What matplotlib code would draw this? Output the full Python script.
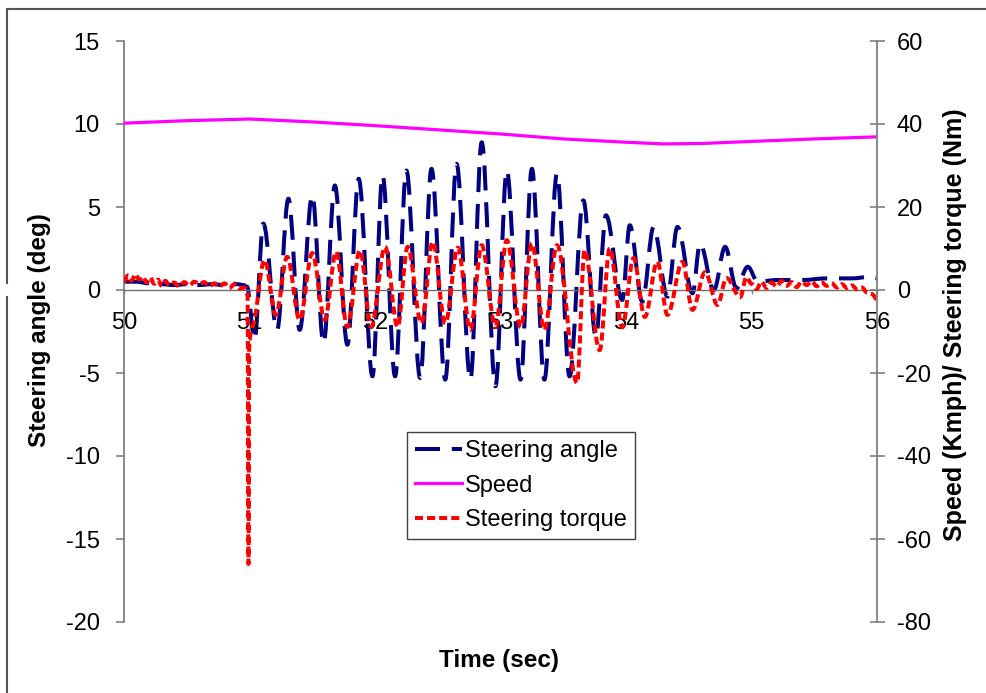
import numpy as np
import matplotlib
matplotlib.use("Agg")
import matplotlib.pyplot as plt
from matplotlib.lines import Line2D
from matplotlib.path import Path
from matplotlib.patches import PathPatch

plt.rcParams['font.family'] = ['Liberation Sans', 'DejaVu Sans']
plt.rcParams['lines.scale_dashes'] = False
plt.rcParams['axes.unicode_minus'] = False

# steering angle (deg), left axis
angle_t = [50.00, 50.10, 50.20, 50.30, 50.40, 50.50, 50.60, 50.70, 50.80, 50.85,
           50.90, 50.95, 50.98,
           51.04, 51.11, 51.22, 51.31, 51.40, 51.50, 51.59, 51.68, 51.78, 51.87,
           51.98, 52.06, 52.16, 52.25, 52.36, 52.45, 52.56, 52.65, 52.76, 52.85,
           52.96, 53.05, 53.16, 53.25, 53.35, 53.45, 53.55, 53.66, 53.76, 53.84,
           53.97, 54.03, 54.13, 54.22, 54.33, 54.41, 54.53, 54.59, 54.70, 54.79,
           54.88, 54.97,
           55.05, 55.20, 55.40, 55.60, 55.80, 55.95, 56.00]
angle = [0.5, 0.5, 0.4, 0.35, 0.3, 0.35, 0.3, 0.35, 0.3, 0.45,
         0.35, 0.3, 0.2,
         -3.0, 4.0, -2.4, 5.5, -2.4, 5.7, -3.2, 6.3, -3.3, 6.7,
         -5.2, 6.9, -5.2, 7.2, -5.3, 7.3, -5.4, 7.6, -5.4, 8.9,
         -5.8, 7.2, -5.4, 7.3, -5.4, 7.0, -5.2, 5.4, -2.8, 4.5,
         -0.6, 3.9, -0.7, 3.8, -0.4, 3.8, -0.2, 2.8, 0.0, 2.6,
         0.1, 1.4,
         0.5, 0.6, 0.6, 0.7, 0.7, 0.8, 0.7]

# steering torque (Nm), right axis
torque_t = [50.00, 50.03, 50.06, 50.09, 50.12, 50.15, 50.18, 50.21, 50.24, 50.27,
            50.30, 50.33, 50.36, 50.40, 50.44, 50.48, 50.52, 50.56, 50.60, 50.64,
            50.68, 50.72, 50.76, 50.80, 50.84, 50.88, 50.92, 50.96,
            50.985, 50.992, 50.998, 51.02,
            51.12, 51.21, 51.30, 51.40, 51.50, 51.60, 51.69, 51.78, 51.88, 51.97,
            52.08, 52.18, 52.26, 52.37, 52.46, 52.56, 52.66, 52.76, 52.85, 52.96,
            53.05, 53.16, 53.25, 53.35, 53.45, 53.61, 53.67, 53.79, 53.87, 53.97,
            54.06, 54.15, 54.25, 54.33, 54.45, 54.53, 54.63, 54.73, 54.80, 54.91,
            54.96,
            55.00, 55.04, 55.08, 55.12, 55.16, 55.20, 55.24, 55.28, 55.32, 55.36,
            55.40, 55.44, 55.48, 55.52, 55.56, 55.60, 55.64, 55.68, 55.72, 55.76,
            55.80, 55.84, 55.88, 55.92, 55.96, 56.00]
torque = [2.0, 3.5, 2.2, 3.8, 2.5, 3.2, 1.8, 3.0, 1.5, 2.5,
          1.0, 2.2, 1.2, 1.8, 0.8, 1.9, 1.0, 2.0, 1.4, 1.9,
          0.9, 1.6, 0.8, 1.6, 0.5, 1.4, 0.4, 0.6,
          -1.0, -66.0, -12.0, -8.9,
          7.2, -6.0, 8.0, -7.2, 8.9, -7.2, 9.2, -8.9, 9.5, -8.9,
          10.4, -8.9, 10.4, -8.0, 11.6, -8.0, 10.2, -9.6, 10.8, -8.9,
          12.0, -8.9, 11.2, -9.6, 10.8, -22.4, 9.6, -14.5, 10.0, -9.0,
          7.7, -6.5, 6.8, -6.0, 6.8, -4.8, 4.3, -3.6, 2.9, -1.7,
          3.1,
          1.5, 0.2, 2.0, 0.5, 1.8, 0.8, 2.2, 1.0, 1.9, 0.7,
          2.0, 1.2, 2.1, 0.9, 1.8, 1.0, 1.6, 0.6, 1.4, 0.5,
          1.1, 0.2, 0.6, -0.6, -1.0, -2.2]

# speed (Kmph), right axis
speed_t = [50.0, 50.5, 51.0, 51.5, 52.0, 52.5, 53.0, 53.5, 54.0, 54.3, 54.6, 55.0, 55.5, 56.0]
speed = [40.2, 40.8, 41.2, 40.5, 39.6, 38.6, 37.6, 36.4, 35.6, 35.2, 35.3, 35.8, 36.4, 36.9]

x_ticks = [50, 51, 52, 53, 54, 55, 56]
left_ticks = [-20, -15, -10, -5, 0, 5, 10, 15]
right_ticks = [-80, -60, -40, -20, 0, 20, 40, 60]


def smooth_path(t, v, k=0.36):
    # smoothed line through the points (flat tangent at each point)
    verts = [(t[0], v[0])]
    codes = [Path.MOVETO]
    for i in range(1, len(t)):
        dt = t[i] - t[i - 1]
        verts += [(t[i - 1] + k * dt, v[i - 1]), (t[i] - k * dt, v[i]), (t[i], v[i])]
        codes += [Path.CURVE4] * 3
    return Path(verts, codes)


W, H = 987, 693
fig = plt.figure(figsize=(W / 100, H / 100), dpi=100)
ax1 = fig.add_axes([124 / W, 1 - 622 / H, (877 - 124) / W, (622 - 41) / H])
ax2 = ax1.twinx()

gray = '#808080'
fs = 17
blue, red, mag = '#000080', '#FF0000', '#FF00FF'
blue_dash = (18, 8.5)
red_dash = (5.8, 2.9)

ax1.add_patch(PathPatch(smooth_path(angle_t, angle), fill=False, edgecolor=blue,
                        lw=2.9, linestyle=(0, blue_dash), joinstyle='round'))
ax2.plot(speed_t, speed, color=mag, lw=2.3)
ax2.add_patch(PathPatch(smooth_path(torque_t, torque), fill=False, edgecolor=red,
                        lw=2.9, linestyle=(0, red_dash), joinstyle='round'))

ax1.set_xlim(50, 56)
ax1.set_ylim(-20, 15)
ax2.set_ylim(-80, 60)
ax1.set_xticks(x_ticks)
ax1.set_yticks(left_ticks)
ax2.set_yticks(right_ticks)

for ax in (ax1, ax2):
    ax.spines['top'].set_visible(False)
    ax.patch.set_visible(False)
ax2.spines['bottom'].set_visible(False)
ax2.spines['left'].set_visible(False)
ax1.spines['right'].set_visible(False)
ax1.spines['bottom'].set_position(('data', 0))
ax1.spines['bottom'].set_color('#707070')
ax1.spines['bottom'].set_linewidth(1.0)
ax1.spines['left'].set_color(gray)
ax1.spines['left'].set_linewidth(1.3)
ax2.spines['right'].set_color(gray)
ax2.spines['right'].set_linewidth(1.3)

ax1.tick_params(axis='x', direction='out', length=3, width=1, color=gray,
                pad=13, labelsize=fs)
ax1.tick_params(axis='y', direction='out', length=5.8, width=1.2, color=gray,
                pad=11.5, labelsize=fs)
ax2.tick_params(axis='y', direction='inout', length=10.8, width=1.2, color=gray,
                pad=9, labelsize=fs)

fig.text(40 / W, 1 - 330 / H, 'Steering angle (deg)', rotation=90, ha='center',
         va='center', fontsize=17.5, fontweight='bold')
fig.text(955 / W, 1 - 325 / H, 'Speed (Kmph)/ Steering torque (Nm)', rotation=90,
         ha='center', va='center', fontsize=18, fontweight='bold')
fig.text(499 / W, 1 - 660 / H, 'Time (sec)', ha='center', va='center',
         fontsize=17.5, fontweight='bold')

handles = [Line2D([], [], color=blue, lw=2.9, dashes=blue_dash, label='Steering angle'),
           Line2D([], [], color=mag, lw=2.3, label='Speed'),
           Line2D([], [], color=red, lw=2.9, dashes=red_dash, label='Steering torque')]
leg = ax2.legend(handles=handles, loc='upper left',
                 bbox_to_anchor=(407 / W, 1 - 432 / H), bbox_transform=fig.transFigure,
                 borderaxespad=0, fontsize=fs, frameon=True, fancybox=False,
                 framealpha=1, edgecolor='#404040', handlelength=2.0,
                 handletextpad=0.1, labelspacing=0.52, borderpad=0.35)
leg.get_frame().set_linewidth(1.0)

# outer frame (left and top edges visible)
fig.add_artist(Line2D([7 / W, 7 / W], [0, 1 - 297 / H], transform=fig.transFigure,
                      color='#555555', lw=1.5))
fig.add_artist(Line2D([7 / W, 7 / W], [1 - 283 / H, 1 - 9 / H], transform=fig.transFigure,
                      color='#555555', lw=1.5))
fig.add_artist(Line2D([7 / W, 1], [1 - 9 / H, 1 - 9 / H], transform=fig.transFigure,
                      color='#555555', lw=1.5))

fig.savefig('out.png', dpi=100)
